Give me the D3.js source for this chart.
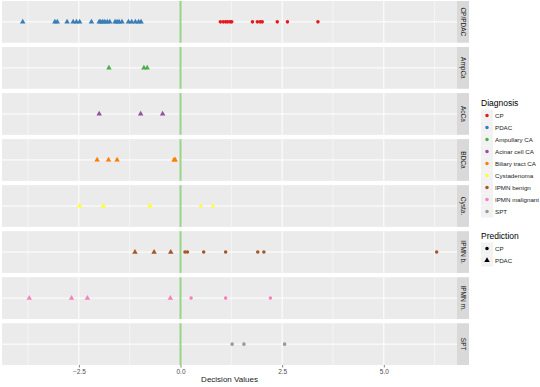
<!DOCTYPE html>
<html>
<head>
<meta charset="utf-8">
<script src="https://cdn.jsdelivr.net/npm/d3@7"></script>
<style>
  body { margin: 0; background: #fff; }
  text { font-family: "Liberation Sans", Arial, sans-serif; }
</style>
</head>
<body>
<svg id="chart"></svg>
<script>
// facet rows (strip labels), top to bottom
const facets = ['CP/PDAC', 'AmpCa', 'AcCa', 'BDCa', 'Cysta.', 'IPMN b.', 'IPMN m.', 'SPT'];
const diagnoses = ['CP', 'PDAC', 'Ampullary CA', 'Acinar cell CA', 'Biliary tract CA',
  'Cystadenoma', 'IPMN benign', 'IPMN malignant', 'SPT'];
const diagColors = ['#E41A1C', '#377EB8', '#4DAF4A', '#984EA3', '#FF7F00',
  '#FFFF33', '#A65628', '#F781BF', '#999999'];
const predictions = ['CP', 'PDAC'];
const xTicks = [-2.5, 0, 2.5, 5];
const xMinor = [-3.75, -1.25, 1.25, 3.75, 6.25];

// decision values
const cpValues = [0.98, 1.05, 1.11, 1.16, 1.22, 1.26, 1.77, 1.89, 1.96, 2.01, 2.38, 2.63, 3.38];
const pdacValues = [-3.88, -3.09, -3.03, -2.79, -2.64, -2.56, -2.48, -2.19, -2.0, -1.96,
  -1.91, -1.86, -1.8, -1.74, -1.61, -1.56, -1.51, -1.44, -1.28, -1.2, -1.11, -1.03, -0.97];
const ampValues = [-1.76, -0.9, -0.82];
const acinarValues = [-2.0, -0.98, -0.44];
const biliaryValues = [-2.05, -1.77, -1.56, -0.16, -0.13];
const cystValues = [-2.48, -1.9, -0.75, 0.5, 0.8];
const ipmnBValues = [-1.12, -0.65, -0.24, 0.11, 0.17, 0.57, 1.11, 1.9, 2.05, 6.3];
const ipmnMValues = [-3.72, -2.68, -2.29, -0.25, 0.26, 1.11, 2.21];
const sptValues = [1.27, 1.56, 2.56];

const rows = [
  { facet: 'CP/PDAC', diag: 'CP', values: cpValues },
  { facet: 'CP/PDAC', diag: 'PDAC', values: pdacValues },
  { facet: 'AmpCa', diag: 'Ampullary CA', values: ampValues },
  { facet: 'AcCa', diag: 'Acinar cell CA', values: acinarValues },
  { facet: 'BDCa', diag: 'Biliary tract CA', values: biliaryValues },
  { facet: 'Cysta.', diag: 'Cystadenoma', values: cystValues },
  { facet: 'IPMN b.', diag: 'IPMN benign', values: ipmnBValues },
  { facet: 'IPMN m.', diag: 'IPMN malignant', values: ipmnMValues },
  { facet: 'SPT', diag: 'SPT', values: sptValues },
];

const points = rows.flatMap((r) => r.values.map((v) => ({
  facet: r.facet, diag: r.diag, value: v, pred: v < 0 ? 'PDAC' : 'CP',
})));

const width = 540;
const height = 387;
const panel = { left: 2, right: 457, top: 1, bottom: 365 };
const stripW = 12;

const svg = d3.select('#chart').attr('width', width).attr('height', height);

const x = d3.scaleLinear().domain([-4.39, 6.8]).range([panel.left, panel.right]);
const fy = d3.scaleBand().domain(facets).range([panel.top, panel.bottom])
  .paddingInner(0.0935).paddingOuter(0);
const color = d3.scaleOrdinal().domain(diagnoses).range(diagColors);
const shape = d3.scaleOrdinal().domain(predictions).range([d3.symbolCircle, d3.symbolTriangle]);
const size = d3.scaleOrdinal().domain(predictions).range([10, 13]);

// panels
facets.forEach((f) => {
  const g = svg.append('g').attr('transform', `translate(0,${fy(f)})`);
  const h = fy.bandwidth();
  g.append('rect')
    .attr('x', panel.left).attr('width', panel.right - panel.left)
    .attr('height', h).attr('fill', '#EBEBEB');
  g.selectAll('.minor').data(xMinor).enter().append('line')
    .attr('x1', (d) => x(d)).attr('x2', (d) => x(d))
    .attr('y1', 0).attr('y2', h)
    .attr('stroke', '#fff').attr('stroke-width', 0.5);
  g.selectAll('.major').data(xTicks).enter().append('line')
    .attr('x1', (d) => x(d)).attr('x2', (d) => x(d))
    .attr('y1', 0).attr('y2', h)
    .attr('stroke', '#fff').attr('stroke-width', 1);
  g.append('line')
    .attr('x1', panel.left).attr('x2', panel.right)
    .attr('y1', h / 2).attr('y2', h / 2)
    .attr('stroke', '#fff').attr('stroke-width', 1);
  // green decision boundary
  g.append('line')
    .attr('x1', x(0)).attr('x2', x(0))
    .attr('y1', 0).attr('y2', h)
    .attr('stroke', '#98D387').attr('stroke-width', 2);
  // strip
  g.append('rect')
    .attr('x', panel.right).attr('width', stripW)
    .attr('height', h).attr('fill', '#D9D9D9');
  g.append('text')
    .attr('transform', `translate(${panel.right + stripW / 2},${h / 2}) rotate(90)`)
    .attr('text-anchor', 'middle').attr('dy', '0.35em')
    .attr('font-size', 6.5).attr('fill', '#1A1A1A')
    .text(f);
});

// points
svg.selectAll('.pt').data(points).enter().append('path')
  .attr('class', 'pt')
  .attr('transform', (d) => `translate(${x(d.value)},${fy(d.facet) + fy.bandwidth() / 2})`)
  .attr('d', (d) => d3.symbol().type(shape(d.pred)).size(size(d.pred))())
  .attr('fill', (d) => color(d.diag));

// x axis
const xAxis = svg.append('g')
  .attr('transform', `translate(0,${panel.bottom})`)
  .call(d3.axisBottom(x).tickValues(xTicks).tickSize(2.5).tickPadding(2)
    .tickFormat((d) => d3.format('.1f')(d).replace('-', '\u2212')));
xAxis.select('.domain').remove();
xAxis.selectAll('.tick line').attr('stroke', '#333').attr('stroke-width', 0.6);
xAxis.selectAll('.tick text').attr('fill', '#4D4D4D').attr('font-size', 6.5)
  .attr('font-family', '"Liberation Sans", Arial, sans-serif');

svg.append('text')
  .attr('x', (panel.left + panel.right) / 2).attr('y', 382)
  .attr('text-anchor', 'middle').attr('font-size', 8).attr('fill', '#1A1A1A')
  .text('Decision Values');

// legends
const lx = 481;
const diagLegend = svg.append('g');
diagLegend.append('text').attr('x', lx).attr('y', 106)
  .attr('font-size', 8.5).attr('fill', '#000').text('Diagnosis');
diagnoses.forEach((d, i) => {
  const cy = 115.5 + i * 12;
  diagLegend.append('rect').attr('x', lx).attr('y', cy - 6)
    .attr('width', 12).attr('height', 12).attr('fill', '#F2F2F2');
  diagLegend.append('path')
    .attr('transform', `translate(${lx + 6},${cy})`)
    .attr('d', d3.symbol().type(d3.symbolCircle).size(10)())
    .attr('fill', color(d));
  diagLegend.append('text').attr('x', lx + 14).attr('y', cy).attr('dy', '0.35em')
    .attr('font-size', 6.2).attr('fill', '#1A1A1A').text(d);
});

const predLegend = svg.append('g');
predLegend.append('text').attr('x', lx).attr('y', 239)
  .attr('font-size', 8.5).attr('fill', '#000').text('Prediction');
predictions.forEach((p, i) => {
  const cy = 248.5 + i * 12;
  predLegend.append('rect').attr('x', lx).attr('y', cy - 6)
    .attr('width', 12).attr('height', 12).attr('fill', '#F2F2F2');
  predLegend.append('path')
    .attr('transform', `translate(${lx + 6},${cy})`)
    .attr('d', d3.symbol().type(shape(p)).size(size(p))())
    .attr('fill', '#000');
  predLegend.append('text').attr('x', lx + 14).attr('y', cy).attr('dy', '0.35em')
    .attr('font-size', 6.2).attr('fill', '#1A1A1A').text(p);
});
</script>
</body>
</html>
